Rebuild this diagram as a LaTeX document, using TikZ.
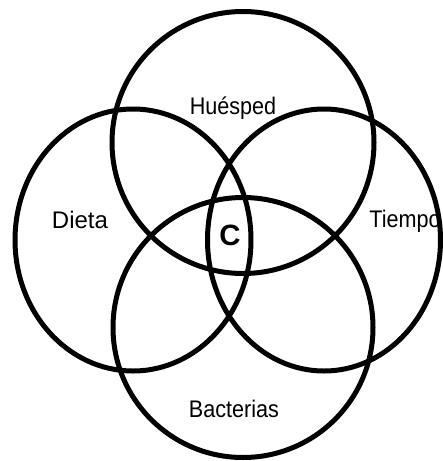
\documentclass[tikz,border=0pt]{standalone}
\usepackage{fontspec}
\setmainfont{Liberation Sans}
\usepackage{xcolor}
\definecolor{Ink}{HTML}{000000}
\tikzset{
  ring/.style={draw=Ink, line width=3.75pt},
  setname/.style={font=\fontsize{18}{20}\selectfont, text=Ink, anchor=base, inner sep=0pt},
  narrow/.style={xscale=0.9, transform shape}
}

\begin{document}
\begin{tikzpicture}[x=0.75pt, y=-0.75pt]
        \useasboundingbox (0,0) rectangle (443,461);
        \draw[ring] (243,142.5) circle (131);
        \draw[ring] (133,240) ellipse [x radius=118, y radius=131];
        \draw[ring] (324,240) ellipse [x radius=116.5, y radius=131];
        \draw[ring] (243,327.5) circle (130);
        \node[setname, narrow] (huesped) at (233,114) {Huésped};
        \node[setname] (dieta) at (80,228) {Dieta};
        \node[setname, narrow] (tiempo) at (405,227) {Tiempo};
        \node[setname, narrow] (bacterias) at (234,417) {Bacterias};
        \node[setname, font=\fontsize{22}{24}\selectfont\bfseries] (centro) at (230,245.5) {C};
      \end{tikzpicture}
\end{document}
